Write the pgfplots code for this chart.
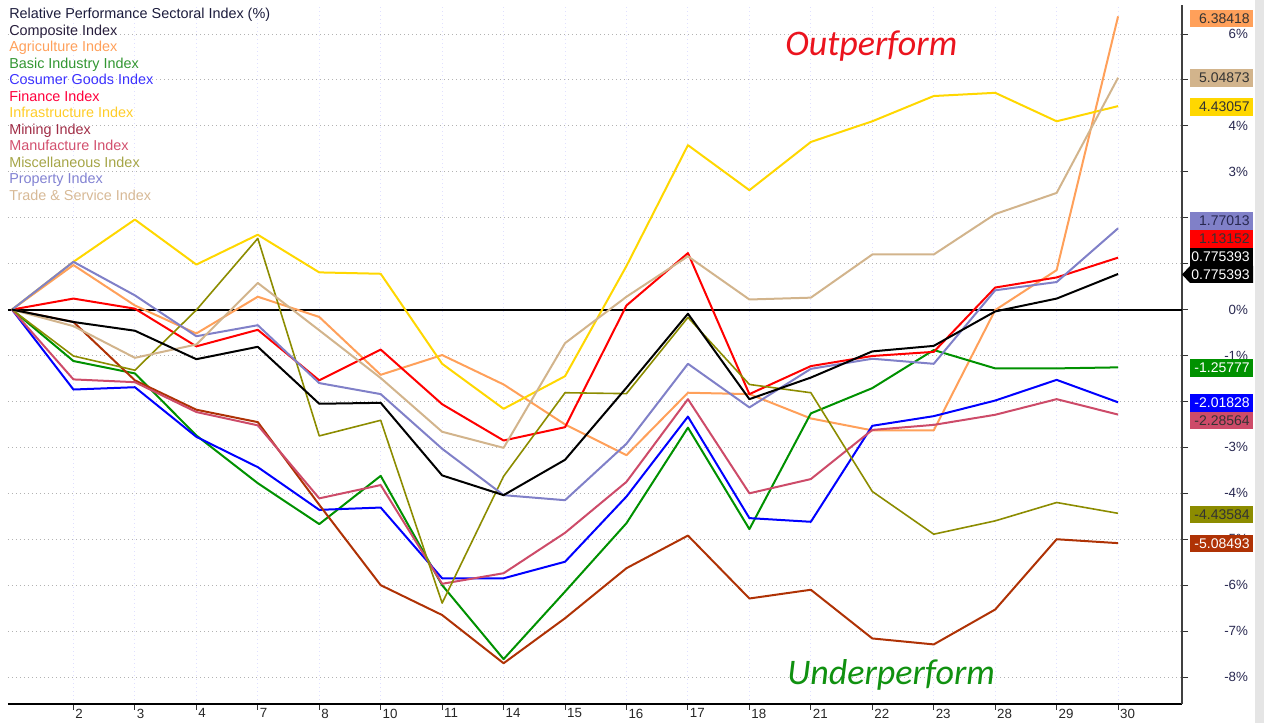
\documentclass[border=0pt]{standalone}
\usepackage{pgfplots}
\usepackage{pgfplotstable}
\pgfplotsset{compat=1.18}
\usepackage{fontspec}
\setmainfont{Liberation Sans}
\newfontfamily\calib{Carlito}
\definecolor{cAgri}{RGB}{255,160,90}
\definecolor{cBasic}{RGB}{0,145,0}
\definecolor{cCons}{RGB}{0,0,255}
\definecolor{cFin}{RGB}{255,0,0}
\definecolor{cInfra}{RGB}{255,215,0}
\definecolor{cMin}{RGB}{175,50,5}
\definecolor{cManu}{RGB}{205,75,105}
\definecolor{cMisc}{RGB}{140,140,0}
\definecolor{cProp}{RGB}{128,128,200}
\definecolor{cTrade}{RGB}{210,180,140}
\definecolor{cTick}{RGB}{40,40,80}
\pgfplotstableread{
x comp agri basic cons fin infra mine manu misc prop trade
0 0 0 0 0 0 0 0 0 0 0 0
1 -0.27 0.97 -1.12 -1.74 0.24 1.04 -0.27 -1.52 -1.01 1.04 -0.36
2 -0.46 0.09 -1.39 -1.69 0.02 1.96 -1.54 -1.58 -1.32 0.31 -1.05
3 -1.08 -0.52 -2.74 -2.77 -0.80 0.98 -2.18 -2.23 -0.01 -0.58 -0.76
4 -0.81 0.28 -3.78 -3.43 -0.44 1.63 -2.45 -2.52 1.55 -0.34 0.58
5 -2.05 -0.16 -4.67 -4.36 -1.54 0.81 -4.25 -4.11 -2.75 -1.60 -0.45
6 -2.03 -1.42 -3.62 -4.31 -0.87 0.78 -6.00 -3.82 -2.41 -1.84 -1.49
7 -3.61 -0.99 -6.00 -5.85 -2.06 -1.18 -6.65 -5.97 -6.39 -3.03 -2.66
8 -4.04 -1.63 -7.61 -5.85 -2.85 -2.16 -7.70 -5.74 -3.63 -4.04 -3.01
9 -3.27 -2.50 -6.14 -5.49 -2.56 -1.45 -6.72 -4.86 -1.81 -4.15 -0.73
10 -1.70 -3.17 -4.65 -4.07 0.09 0.95 -5.63 -3.75 -1.83 -2.92 0.28
11 -0.09 -1.81 -2.57 -2.33 1.23 3.58 -4.92 -1.95 -0.17 -1.18 1.16
12 -1.95 -1.84 -4.78 -4.54 -1.84 2.60 -6.29 -4.00 -1.63 -2.13 0.22
13 -1.48 -2.37 -2.26 -4.62 -1.23 3.65 -6.10 -3.69 -1.81 -1.29 0.26
14 -0.91 -2.63 -1.71 -2.53 -1.01 4.10 -7.16 -2.62 -3.96 -1.07 1.20
15 -0.79 -2.63 -0.88 -2.32 -0.92 4.65 -7.29 -2.51 -4.89 -1.18 1.20
16 -0.04 -0.01 -1.28 -1.98 0.48 4.72 -6.53 -2.29 -4.60 0.42 2.08
17 0.24 0.86 -1.28 -1.53 0.70 4.10 -5.00 -1.95 -4.20 0.60 2.54
18 0.775393 6.38418 -1.25777 -2.01828 1.13152 4.43057 -5.08493 -2.28564 -4.43584 1.77013 5.04873
}\data
\newcommand\valbox[4]{%
  \fill[#2] (1190,723-#1-8.7) rectangle (1253,723-#1+8.7);
  \node[anchor=east, inner sep=0pt, text=#3, font=\fontsize{10.5}{11}\selectfont] at (1250,723-#1) {#4};}
\begin{document}
\begin{tikzpicture}[x=0.75pt,y=0.75pt]
\path[use as bounding box] (0,0) rectangle (1264,723);
\fill[black!10] (1255,0) rectangle (1264,723);
\begin{axis}[at={(6pt,14.25pt)}, anchor=south west,
  scale only axis, width=880.5pt, height=524.25pt,
  xmin=-0.065, xmax=19.04, ymin=-8.587, ymax=6.632,
  axis x line=bottom, axis y line=right,
  axis line style={-},
  x axis line style={black, line width=0.9pt},
  y axis line style={black!75, line width=0.9pt},
  xtick={1,...,18},
  xticklabels={2,3,4,7,8,10,11,14,15,16,17,18,21,22,23,28,29,30},
  ytick={-8,...,6},
  yticklabels={-8\%,-7\%,-6\%,-5\%,-4\%,-3\%,-2\%,-1\%,0\%,1\%,2\%,3\%,4\%,5\%,6\%},
  tick align=outside, major tick length=4.5pt,
  tick style={black!80, line width=0.75pt},
  xmajorgrids, ymajorgrids,
  x grid style={draw=blue!12, line width=0.75pt, dash pattern=on 0.75pt off 2.25pt},
  y grid style={draw=black!30, line width=0.75pt, dash pattern=on 0.75pt off 2.25pt},
  xticklabel style={anchor=north west, xshift=-2pt, yshift=4.5pt, font=\fontsize{10}{11}\selectfont, text=black!85},
  yticklabel style={anchor=east, xshift=48.5pt, font=\fontsize{10}{11}\selectfont, text=cTick},
  /pgf/number format/assume math mode=true,
  every axis plot/.append style={line width=1.5pt, mark=none, line join=round},
]
\addplot[black, line width=1.5pt] coordinates {(-0.065,0) (19.04,0)};
\addplot[cAgri] table[x=x,y=agri]{\data};
\addplot[cBasic] table[x=x,y=basic]{\data};
\addplot[cCons] table[x=x,y=cons]{\data};
\addplot[cFin] table[x=x,y=fin]{\data};
\addplot[cInfra] table[x=x,y=infra]{\data};
\addplot[cMin] table[x=x,y=mine]{\data};
\addplot[cManu] table[x=x,y=manu]{\data};
\addplot[cMisc, line width=1.2pt] table[x=x,y=misc]{\data};
\addplot[cProp] table[x=x,y=prop]{\data};
\addplot[cTrade] table[x=x,y=trade]{\data};
\addplot[black] table[x=x,y=comp]{\data};
\end{axis}
% legend text
\begin{scope}[every node/.style={anchor=base west, inner sep=0pt, font=\fontsize{10.8}{12}\selectfont}]
\node[text={rgb,255:red,28;green,28;blue,60}] at (9,723-19) {Relative Performance Sectoral Index (\%)};
\node[text={rgb,255:red,40;green,30;blue,60}] at (9,723-35.5) {Composite Index};
\node[text=cAgri] at (9,723-52) {Agriculture Index};
\node[text={rgb,255:red,50;green,150;blue,50}] at (9,723-68.5) {Basic Industry Index};
\node[text={rgb,255:red,60;green,50;blue,255}] at (9,723-85) {Cosumer Goods Index};
\node[text={rgb,255:red,255;green,0;blue,60}] at (9,723-101.5) {Finance Index};
\node[text={rgb,255:red,255;green,205;blue,40}] at (9,723-118) {Infrastructure Index};
\node[text={rgb,255:red,160;green,45;blue,70}] at (9,723-134.5) {Mining Index};
\node[text={rgb,255:red,210;green,80;blue,110}] at (9,723-151) {Manufacture Index};
\node[text={rgb,255:red,165;green,165;blue,70}] at (9,723-167.5) {Miscellaneous Index};
\node[text={rgb,255:red,130;green,130;blue,210}] at (9,723-184) {Property Index};
\node[text={rgb,255:red,215;green,185;blue,150}] at (9,723-200.5) {Trade \& Service Index};
\end{scope}
% annotations
\node[anchor=base west, inner sep=0pt, text={rgb,255:red,235;green,20;blue,30}, font=\calib\itshape\fontsize{27}{30}\selectfont] at (785,723-56) {Outperform};
\node[anchor=base west, inner sep=0pt, text={rgb,255:red,16;green,145;blue,16}, font=\calib\itshape\fontsize{27}{30}\selectfont] at (787,723-685) {Underperform};
% value boxes
\valbox{18.7}{cAgri}{black!80}{6.38418}
\valbox{78}{cTrade}{black!80}{5.04873}
\valbox{107}{cInfra}{black!80}{4.43057}
\valbox{221}{cProp}{cTick}{1.77013}
\valbox{239}{cFin}{black!80}{1.13152}
\valbox{257}{black}{white}{0.775393}
\fill[black] (1182,723-274.5) -- (1190,723-266) -- (1253,723-266) -- (1253,723-283) -- (1190,723-283) -- cycle;
\node[anchor=east, inner sep=0pt, text=white, font=\fontsize{10.5}{11}\selectfont] at (1250,723-274.5) {0.775393};
\valbox{368}{cBasic}{white}{-1.25777}
\valbox{403}{cCons}{white}{-2.01828}
\valbox{420.7}{cManu}{black!80}{-2.28564}
\valbox{514.3}{cMisc}{black!80}{-4.43584}
\valbox{543.7}{cMin}{white}{-5.08493}
\end{tikzpicture}
\end{document}
